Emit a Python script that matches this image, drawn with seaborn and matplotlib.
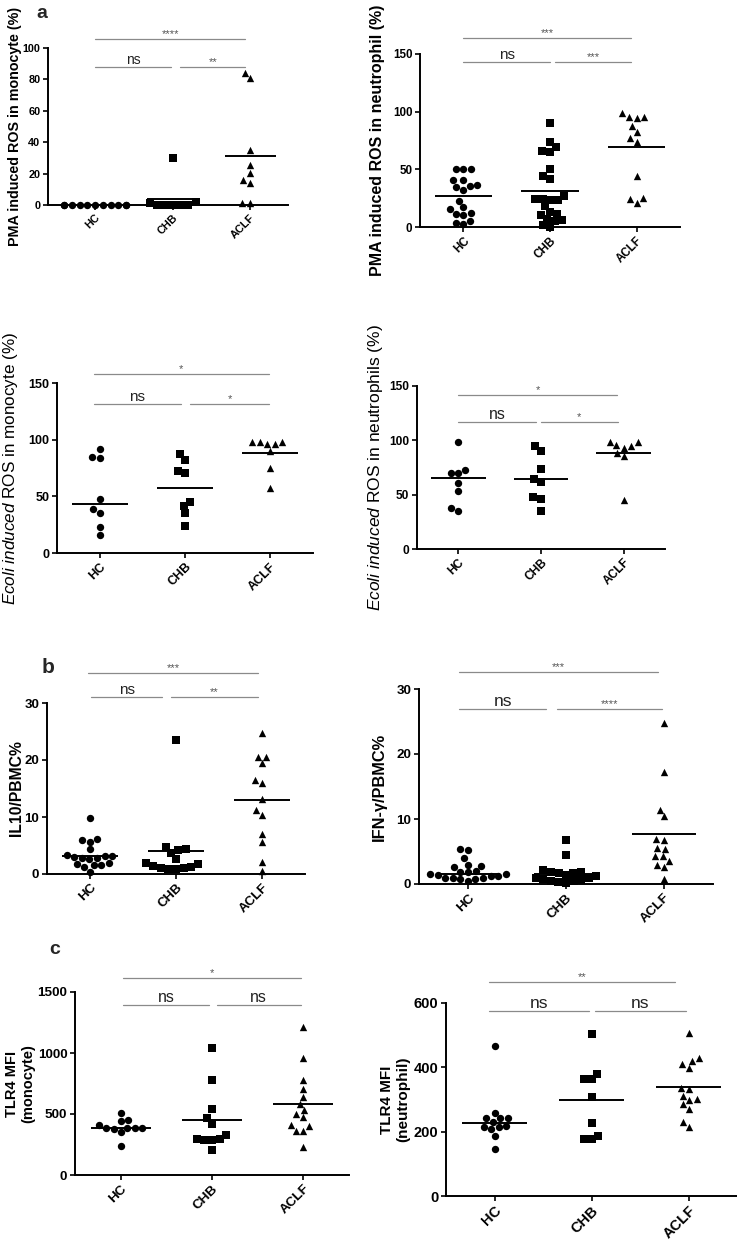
import matplotlib
matplotlib.use("Agg")
import numpy as np
import pandas as pd
import seaborn as sns
import matplotlib.pyplot as plt

GROUPS = ["HC", "CHB", "ACLF"]
MARKERS = ["o", "s", "^"]

# a: PMA induced ROS in monocytes (%)
pma_mono_hc = [0, 0, 0, 0, 0, 0, 0, 0, 0, 0, 0]
pma_mono_chb = [30.2, 1.6, 0.3, 0.2, 0.1, 0.2, 0.3, 1.5]
pma_mono_aclf = [80.6, 84.0, 35.0, 25.5, 20.2, 16.0, 13.8, 1.0, 1.0]
pma_mono_line = [0.0, 4.0, 31.0]

# a: PMA induced ROS in neutrophils (%)
pma_neut_hc = [50, 50, 50, 40.6, 40.6, 35.4, 34.8, 36.8, 31.9, 22.6,
               17.4, 16.0, 12.5, 11.6, 10.2, 4.9, 3.8, 2.3]
pma_neut_chb = [90, 74, 69, 65, 66, 50, 44, 42, 27, 24, 23, 23, 24,
                18, 13, 11, 10, 7, 6, 5, 2, 0]
pma_neut_aclf = [98.6, 95.7, 94.3, 95.2, 87.6, 82.7, 77.5, 74.0, 44.4,
                 25.2, 24.7, 21.2]
pma_neut_line = [27.0, 31.3, 69.0]

# a: E. coli induced ROS in monocytes (%)
ecoli_mono_hc = [84.4, 83.5, 91.4, 48.0, 38.7, 35.2, 22.6, 15.5]
ecoli_mono_chb = [87.0, 82.0, 72.4, 70.3, 45.4, 41.6, 35.2, 23.4]
ecoli_mono_aclf = [98.2, 95.8, 90.0, 95.8, 98.2, 98.2, 74.7, 57.1]
ecoli_mono_line = [43.4, 57.1, 88.5]

# a: E. coli induced ROS in neutrophils (%)
ecoli_neut_hc = [98.3, 72.9, 69.8, 69.8, 60.6, 53.6, 37.6, 34.6]
ecoli_neut_chb = [94.9, 90.3, 73.8, 62.1, 64.6, 47.4, 45.9, 35.2]
ecoli_neut_aclf = [94.9, 98.9, 88.8, 95.8, 98.3, 93.4, 86.0, 44.7]
ecoli_neut_line = [64.9, 64.3, 88.2]

# b: IL10 / PBMC %
il10_hc = [9.9, 5.9, 5.6, 6.1, 4.3, 3.4, 2.9, 2.8, 2.6, 2.8, 3.1, 3.2,
           1.9, 1.5, 1.2, 1.5, 1.7, 0.35]
il10_chb = [23.5, 4.7, 4.2, 3.7, 4.4, 2.7, 1.9, 1.4, 1.1, 0.9, 0.9, 1.0,
            1.2, 1.7]
il10_aclf = [24.7, 20.6, 20.6, 19.5, 16.5, 16.0, 13.2, 11.2, 10.4, 7.0,
             5.6, 2.1, 0.6]
il10_line = [3.1, 4.1, 13.0]

# b: IFN-gamma / PBMC %
ifng_hc = [5.3, 5.4, 4.0, 2.8, 2.6, 3.0, 2.0, 1.9, 1.8, 1.5, 1.4, 1.2,
           1.0, 0.9, 0.7, 0.8, 1.0, 1.2, 1.5, 0.5]
ifng_chb = [6.8, 4.4, 2.2, 1.9, 1.7, 1.2, 0.8, 0.4, 0.2, 0.3, 0.5, 0.9,
            1.4, 1.7, 1.9, 0.6, 1.0]
ifng_aclf = [24.8, 17.3, 11.4, 10.4, 6.8, 7.0, 5.4, 5.6, 4.3, 4.3, 3.5,
             2.6, 2.9, 0.7]
ifng_line = [1.5, 1.6, 7.7]

# c: TLR4 MFI (monocyte)
tlr4_mono_hc = [510, 440, 450, 385, 385, 380, 385, 385, 410, 350, 235]
tlr4_mono_chb = [1039, 775, 545, 464, 417, 327, 286, 205, 286, 292, 292]
tlr4_mono_aclf = [1214, 960, 777, 709, 641, 581, 532, 500, 472, 409, 400,
                  363, 363, 232]
tlr4_mono_line = [382, 450, 586]

# c: TLR4 MFI (neutrophil)
tlr4_neut_hc = [467, 257, 241, 241, 241, 231, 215, 207, 215, 218, 186, 145]
tlr4_neut_chb = [503, 364, 364, 380, 308, 228, 187, 176, 177]
tlr4_neut_aclf = [506, 428, 409, 399, 420, 333, 337, 303, 311, 269, 286,
                  300, 231, 215]
tlr4_neut_line = [226, 298, 338]

panels = [
    dict(values=(pma_mono_hc, pma_mono_chb, pma_mono_aclf), line=pma_mono_line,
         ylim=(0, 100), yticks=[0, 20, 40, 60, 80, 100],
         ylabel="PMA induced ROS in monocyte (%)", lw="bold", lsize=10.3, lx=26,
         box=(48, 288, 48, 205), xlim=(-0.61, 2.49), tsize=7.8, nsize=10,
         bars=[((0, 1.94), 105.7, "****"), ((0, 0.98), 88, "ns"), ((1.1, 1.94), 88, "**")]),
    dict(values=(pma_neut_hc, pma_neut_chb, pma_neut_aclf), line=pma_neut_line,
         ylim=(0, 150), yticks=[0, 50, 100, 150],
         ylabel="PMA induced ROS in neutrophil (%)", lw="bold", lsize=11.5, lx=35,
         box=(420, 680, 54, 227), xlim=(-0.5, 2.5), tsize=8.4, nsize=11,
         bars=[((0, 1.93), 164, "***"), ((0, 1.0), 143, "ns"), ((1.06, 1.94), 143, "***")]),
    dict(values=(ecoli_mono_hc, ecoli_mono_chb, ecoli_mono_aclf), line=ecoli_mono_line,
         ylim=(0, 150), yticks=[0, 50, 100, 150],
         ylabel=r"$\mathit{Ecoli\ induced}$ ROS in monocyte (%)", lw="normal", lsize=12.3,
         lx=37, box=(57, 313, 383, 553), xlim=(-0.5, 2.5), tsize=9, nsize=11,
         bars=[((-0.07, 1.98), 158, "*"), ((-0.07, 0.95), 131.5, "ns"), ((1.06, 1.99), 131.5, "*")]),
    dict(values=(ecoli_neut_hc, ecoli_neut_chb, ecoli_neut_aclf), line=ecoli_neut_line,
         ylim=(0, 150), yticks=[0, 50, 100, 150],
         ylabel=r"$\mathit{Ecoli\ induced}$ ROS in neutrophils (%)", lw="normal", lsize=12.5,
         lx=32, box=(417, 665, 386, 549), xlim=(-0.5, 2.5), tsize=8.6, nsize=11.4,
         bars=[((0, 1.92), 141.7, "*"), ((0, 0.94), 117, "ns"), ((1.0, 1.93), 117, "*")]),
    dict(values=(il10_hc, il10_chb, il10_aclf), line=il10_line,
         ylim=(0, 30), yticks=[0, 10, 20, 30],
         ylabel="IL10/PBMC%", lw="bold", lsize=11.3, lx=23,
         box=(47, 305, 703, 874), xlim=(-0.5, 2.5), tsize=9.5, nsize=11,
         bars=[((-0.02, 1.95), 35.3, "***"), ((0.01, 0.84), 31, "ns"), ((0.94, 1.95), 31, "**")]),
    dict(values=(ifng_hc, ifng_chb, ifng_aclf), line=ifng_line,
         ylim=(0, 30), yticks=[0, 10, 20, 30],
         ylabel="IFN-γ/PBMC%", lw="bold", lsize=11.8, lx=32,
         box=(419, 713, 689, 884), xlim=(-0.5, 2.5), tsize=9.7, nsize=12.5,
         bars=[((-0.09, 1.94), 32.6, "***"), ((-0.09, 0.8), 26.9, "ns"), ((0.91, 1.98), 26.9, "****")]),
    dict(values=(tlr4_mono_hc, tlr4_mono_chb, tlr4_mono_aclf), line=tlr4_mono_line,
         ylim=(0, 1500), yticks=[0, 500, 1000, 1500],
         ylabel="TLR4 MFI\n(monocyte)", lw="bold", lsize=10.5, lx=40,
         box=(75, 349, 992, 1175), xlim=(-0.5, 2.5), tsize=9.7, nsize=11.5,
         bars=[((0.03, 1.97), 1615, "*"), ((0.03, 0.97), 1393, "ns"), ((1.05, 1.97), 1393, "ns")]),
    dict(values=(tlr4_neut_hc, tlr4_neut_chb, tlr4_neut_aclf), line=tlr4_neut_line,
         ylim=(0, 600), yticks=[0, 200, 400, 600],
         ylabel="TLR4 MFI\n(neutrophil)", lw="bold", lsize=11, lx=36,
         box=(446, 737, 1003, 1196), xlim=(-0.5, 2.5), tsize=10.5, nsize=12.5,
         bars=[((-0.06, 1.86), 665, "**"), ((-0.06, 0.97), 575, "ns"), ((1.04, 1.97), 575, "ns")]),
]

sns.set_theme(style="ticks")
plt.rcParams["font.family"] = ["Liberation Sans", "DejaVu Sans"]
plt.rcParams["mathtext.fontset"] = "custom"
plt.rcParams["mathtext.rm"] = "Liberation Sans"
plt.rcParams["mathtext.it"] = "Liberation Sans:italic"
plt.rcParams["mathtext.bf"] = "Liberation Sans:bold"

W, H = 737, 1240
fig = plt.figure(figsize=(W / 100, H / 100), dpi=100)

for p in panels:
    x0, x1, y0, y1 = p["box"]
    ax = fig.add_axes([x0 / W, 1 - y1 / H, (x1 - x0) / W, (y1 - y0) / H])

    df = pd.DataFrame({
        "pos": np.repeat(np.arange(3), [len(v) for v in p["values"]]),
        "value": np.concatenate(p["values"]),
    })
    for i, m in enumerate(MARKERS):
        sns.swarmplot(data=df[df["pos"] == i], x="pos", y="value", native_scale=True,
                      orient="x", marker=m, color="black", size=5.3, linewidth=0, ax=ax)
    for c in ax.collections:
        c.set_clip_on(False)

    # group centre lines
    ax.hlines(p["line"], np.arange(3) - 0.33, np.arange(3) + 0.33,
              color="black", lw=1.4, zorder=4, clip_on=False)

    # significance brackets
    for (xa, xb), yy, lab in p["bars"]:
        ax.plot([xa, xb], [yy, yy], color="#8a8a8a", lw=0.9, clip_on=False)
        if lab == "ns":
            ax.text((xa + xb) / 2, yy, lab, ha="center", va="bottom", fontsize=p["nsize"],
                    color="#222222", clip_on=False)
        else:
            ax.text((xa + xb) / 2, yy, lab, ha="center", va="bottom", fontsize=8,
                    color="#555555", clip_on=False)

    ax.set_xlim(*p["xlim"])
    ax.set_ylim(*p["ylim"])
    ax.set_yticks(p["yticks"])
    ax.set_yticklabels([str(t) for t in p["yticks"]], fontsize=p["tsize"], fontweight="bold")
    ax.set_xticks(range(3))
    ax.set_xticklabels(GROUPS, rotation=45, ha="right", rotation_mode="anchor",
                       fontsize=p["tsize"], fontweight="bold")
    ax.set_xlabel("")
    ax.set_ylabel(p["ylabel"], fontsize=p["lsize"], fontweight=p["lw"], color="black")
    ax.yaxis.set_label_coords(-p["lx"] / (x1 - x0), 0.5)
    for s in ("top", "right"):
        ax.spines[s].set_visible(False)
    for s in ("left", "bottom"):
        ax.spines[s].set_linewidth(1.4)
        ax.spines[s].set_color("black")
    ax.tick_params(axis="both", direction="out", length=3.5, width=1.2, color="black",
                   labelcolor="black", pad=2)
    ax.set_facecolor("none")

fig.text(42 / W, 1 - 14 / H, "a", fontsize=14, fontweight="bold", ha="center", va="center")
fig.text(48 / W, 1 - 667 / H, "b", fontsize=15, fontweight="bold", ha="center", va="center")
fig.text(55 / W, 1 - 950 / H, "c", fontsize=14, fontweight="bold", ha="center", va="center")

fig.savefig("out.png", dpi=100, facecolor="white")
